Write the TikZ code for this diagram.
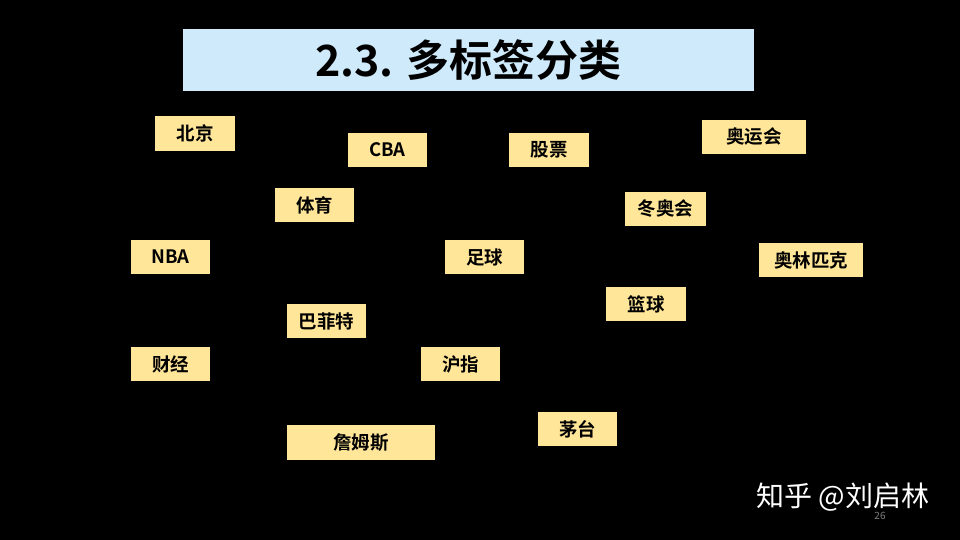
\documentclass[tikz,border=0pt]{standalone}
\usepackage{fontspec}
\setmainfont{Noto Sans CJK SC}[BoldFont={* Bold}]
\definecolor{boxc}{HTML}{FFE699}
\definecolor{titc}{HTML}{CFEBFB}
\begin{document}
\begin{tikzpicture}[x=1pt,y=-1pt,
 tag/.style={fill=boxc,draw=none,text=black},
 tagtext/.style={font=\fontsize{18.5}{18.5}\selectfont\bfseries},
]
\fill[black] (0,0) rectangle (960,540);
\useasboundingbox (0,0) rectangle (960,540);
\newcommand\tagbox[6]{\path[tag] (#2,#3) rectangle (#4,#5) node[midway,tagtext] (#1) {#6};}
\path[fill=titc] (183,29) rectangle (754,91) node[midway,font=\fontsize{43}{43}\selectfont\bfseries] (title) {2.3. 多标签分类};
\tagbox{a}{155}{116}{235}{151}{北京}
\tagbox{b}{348}{133}{427}{167}{CBA}
\tagbox{c}{509}{133}{589}{167}{股票}
\tagbox{d}{702}{120}{806}{154}{奥运会}
\tagbox{e}{275}{188}{354}{222}{体育}
\tagbox{f}{625}{192}{706}{226}{冬奥会}
\tagbox{g}{131}{240}{210}{274}{NBA}
\tagbox{h}{445}{240}{524}{274}{足球}
\tagbox{i}{759}{243}{863}{277}{奥林匹克}
\tagbox{j}{606}{287}{686}{321}{篮球}
\tagbox{k}{287}{304}{366}{338}{巴菲特}
\tagbox{l}{131}{347}{210}{381}{财经}
\tagbox{m}{421}{347}{500}{381}{沪指}
\tagbox{n}{538}{412}{617}{446}{茅台}
\tagbox{o}{287}{425}{435}{460}{詹姆斯}
\node[text=white,font=\fontsize{28}{28}\selectfont,anchor=center] (wm) at (843,497) {知乎 @刘启林};
\node[text=gray,font=\fontsize{10}{10}\selectfont] (pg) at (880,516) {26};
\end{tikzpicture}
\end{document}
